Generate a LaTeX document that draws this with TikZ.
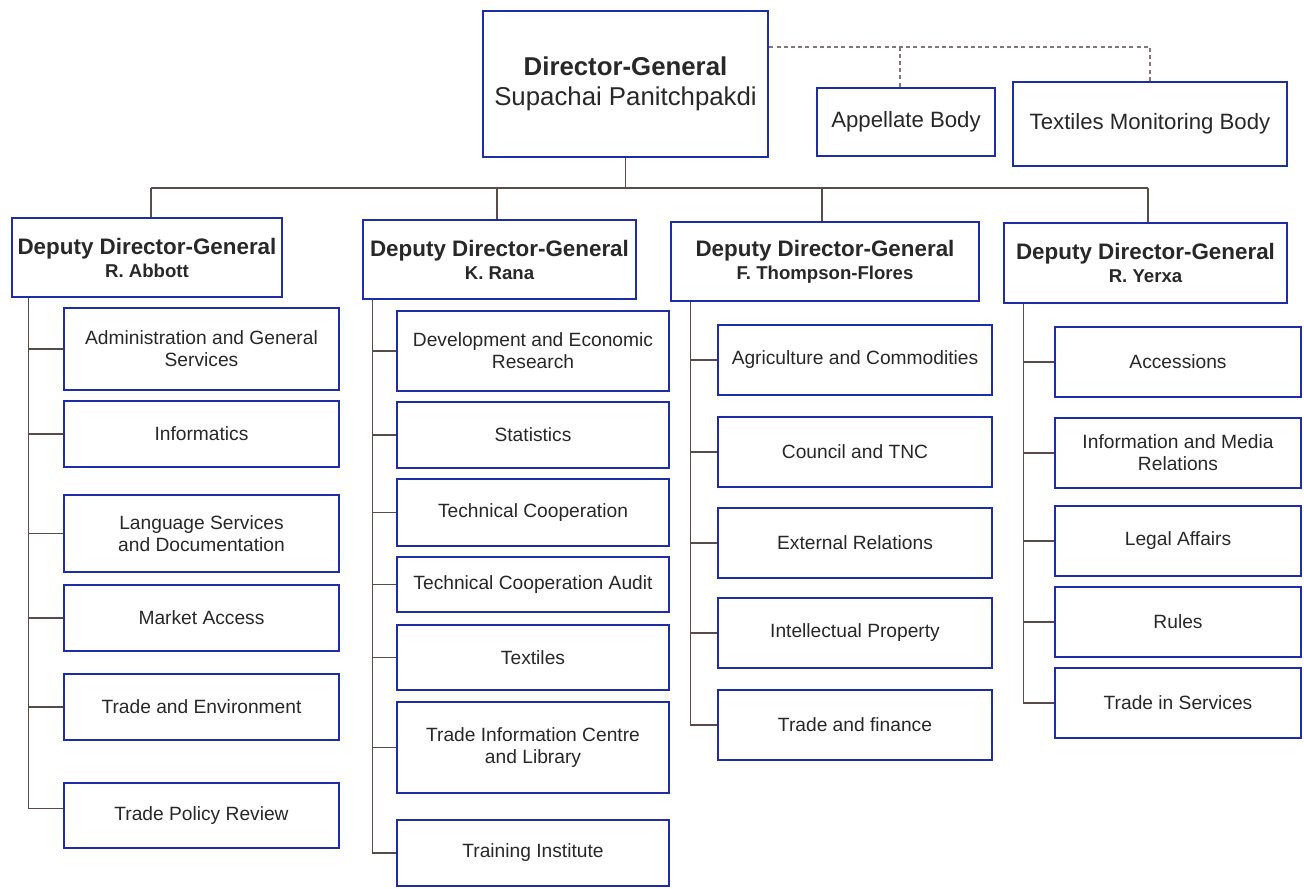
\documentclass[tikz,border=0pt]{standalone}
\usepackage{fontspec}
\setmainfont{Liberation Sans}
\definecolor{boxblue}{RGB}{30,45,165}
\definecolor{conn}{RGB}{90,75,75}
\definecolor{txt}{RGB}{40,40,40}
\newcommand\orgbox[7][]{%
 \pgfmathsetmacro\cx{(#3+#5)/2}%
 \pgfmathsetmacro\cy{(#4+#6)/2}%
 \pgfmathsetmacro\ww{(#5-#3)*0.5}%
 \pgfmathsetmacro\hh{(#6-#4)*0.5}%
 \node[orgnode,#1,minimum width=\ww pt,minimum height=\hh pt] (#2) at (\cx,\cy) {#7};}
\begin{document}
\begin{tikzpicture}[x=0.5pt,y=-0.5pt,
 orgnode/.style={draw=boxblue,line width=1.35pt,fill=white,align=center,inner sep=0pt,text=txt,font=\fontsize{9.6}{11}\selectfont},
 ddg/.style={font=\fontsize{11.2}{11.5}\selectfont\bfseries},
 topbox/.style={font=\fontsize{11.1}{13}\selectfont},
 dgbox/.style={font=\fontsize{12.9}{15}\selectfont},
 link/.style={draw=conn,line width=0.6pt},
 dlink/.style={draw=conn!75,line width=0.6pt,dash pattern=on 2pt off 1.6pt}]
\fill[white] (0,0) rectangle (1304,888);
\useasboundingbox (0,0) rectangle (1304,888);

% top level
\orgbox[dgbox]{dg}{483}{11}{768}{157}{{\bfseries Director-General}\\Supachai Panitchpakdi}
\orgbox[topbox]{app}{817}{88}{995}{156}{Appellate Body}
\orgbox[topbox]{tmb}{1013}{82}{1287}{166}{Textiles Monitoring Body}

% deputies
\orgbox[ddg]{d1}{12}{218}{282}{297}{Deputy Director-General\\{\fontsize{9.3}{11.5}\selectfont R. Abbott}}
\orgbox[ddg]{d2}{363}{220}{636}{299}{Deputy Director-General\\{\fontsize{9.3}{11.5}\selectfont K. Rana}}
\orgbox[ddg]{d3}{671}{222}{979}{301}{Deputy Director-General\\{\fontsize{9.3}{11.5}\selectfont F. Thompson-Flores}}
\orgbox[ddg]{d4}{1004}{223}{1287}{303}{Deputy Director-General\\{\fontsize{9.3}{11.5}\selectfont R. Yerxa}}

% column 1
\orgbox{a1}{64}{308}{339}{390}{Administration and General\\Services}
\orgbox{a2}{64}{401}{339}{467}{Informatics}
\orgbox{a3}{64}{495}{339}{572}{Language Services\\and Documentation}
\orgbox{a4}{64}{585}{339}{651}{Market Access}
\orgbox{a5}{64}{674}{339}{740}{Trade and Environment}
\orgbox{a6}{64}{783}{339}{848}{Trade Policy Review}

% column 2
\orgbox{b1}{397}{311}{669}{391}{Development and Economic\\Research}
\orgbox{b2}{397}{402}{669}{468}{Statistics}
\orgbox{b3}{397}{479}{669}{546}{Technical Cooperation}
\orgbox{b4}{397}{557}{669}{612}{Technical Cooperation Audit}
\orgbox{b5}{397}{625}{669}{690}{Textiles}
\orgbox{b6}{397}{702}{669}{793}{Trade Information Centre\\and Library}
\orgbox{b7}{397}{820}{669}{886}{Training Institute}

% column 3
\orgbox{c1}{718}{325}{992}{395}{Agriculture and Commodities}
\orgbox{c2}{718}{417}{992}{487}{Council and TNC}
\orgbox{c3}{718}{508}{992}{578}{External Relations}
\orgbox{c4}{718}{598}{992}{668}{Intellectual Property}
\orgbox{c5}{718}{690}{992}{760}{Trade and finance}

% column 4
\orgbox{e1}{1055}{327}{1301}{397}{Accessions}
\orgbox{e2}{1055}{418}{1301}{488}{Information and Media\\Relations}
\orgbox{e3}{1055}{506}{1301}{576}{Legal Affairs}
\orgbox{e4}{1055}{587}{1301}{657}{Rules}
\orgbox{e5}{1055}{668}{1301}{738}{Trade in Services}

% connectors: top
\coordinate (bus) at (620,188);
\coordinate (dtop) at (620,47);
\coordinate (t1) at ([xshift=2pt]d1.north);
\coordinate (t2) at ([xshift=-1.25pt]d2.north);
\coordinate (t3) at ([xshift=-1.5pt]d3.north);
\coordinate (t4) at ([xshift=1.25pt]d4.north);
\draw[link] (dg.south) -- (dg.south |- bus);
\draw[link] (t1 |- bus) -- (t4 |- bus);
\foreach \n in {t1,t2,t3,t4} \draw[link] (\n) -- (\n |- bus);
\draw[dlink] (dg.east |- dtop) -| (tmb.north);
\draw[dlink] ([xshift=-3pt]app.north) -- ([xshift=-3pt]app.north |- dtop);

% spines
\coordinate (s1) at ([xshift=9pt]d1.south west);
\coordinate (s2) at ([xshift=5.5pt]d2.south west);
\coordinate (s3) at ([xshift=10.5pt]d3.south west);
\coordinate (s4) at ([xshift=10.5pt]d4.south west);
\foreach \n in {a1,a2,a3,a4,a5} \draw[link] (s1) |- (\n.west);
\draw[link] (s1) |- ([yshift=3.5pt]a6.west);
\foreach \n in {b1,b2,b3,b4,b5,b6,b7} \draw[link] (s2) |- (\n.west);
\foreach \n in {c1,c2,c3,c4,c5} \draw[link] (s3) |- (\n.west);
\foreach \n in {e1,e2,e3,e4,e5} \draw[link] (s4) |- (\n.west);
\end{tikzpicture}
\end{document}
